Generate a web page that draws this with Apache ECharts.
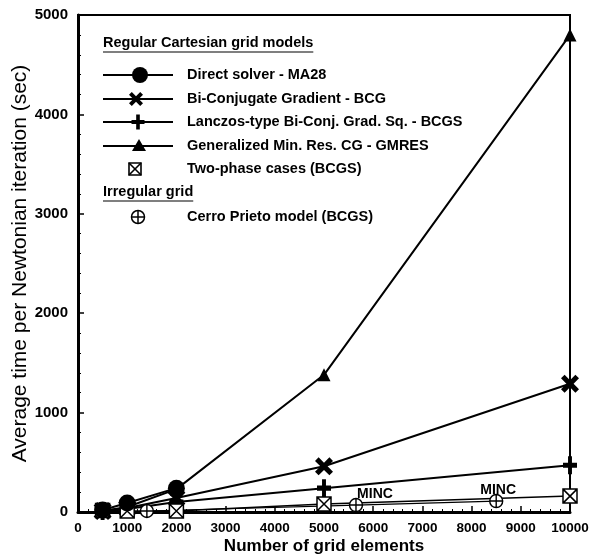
<!DOCTYPE html>
<html>
<head>
<meta charset="utf-8">
<script src="https://cdn.jsdelivr.net/npm/echarts@6/dist/echarts.min.js"></script>
<style>
html,body{margin:0;padding:0;background:#fff;}
#chart{width:593px;height:559px;}
</style>
</head>
<body>
<div id="chart"></div>
<script>
// ---- data ----
const gridSizes = [500, 1000, 2000, 5000, 10000];
const ma28Sizes = [500, 1000, 2000];
const ma28Time  = [20, 90, 240];
const bcgTime   = [10, 40, 140, 460, 1290];
const bcgsTime  = [10, 30, 100, 240, 470];
const gmresTime = [10, 50, 230, 1380, 4800];
const twoPhaseSizes = [500, 1000, 2000, 5000, 10000];
const twoPhaseTime  = [15, 10, 10, 80, 160];
const cerroSizes = [1400, 5650, 8500];
const cerroTime  = [10, 70, 110];
const cerroNotes = ['', 'MINC', 'MINC'];

const seriesNames = [
  'Direct solver - MA28',
  'Bi-Conjugate Gradient - BCG',
  'Lanczos-type Bi-Conj. Grad. Sq. - BCGS',
  'Generalized Min. Res. CG - GMRES',
  'Two-phase cases (BCGS)',
  'Cerro Prieto model (BCGS)'
];
const legendHeaders = ['Regular Cartesian grid models', 'Irregular grid'];
const xAxisTitle = 'Number of grid elements';
const yAxisTitle = 'Average time per Newtonian iteration (sec)';

// ---- drawing ----
const FONT = '"Liberation Sans", Arial, Helvetica, sans-serif';
const pair = (xs, ys) => xs.map((x, i) => [x, ys[i]]);

const SYM_X = 'path://M0,2 L2,0 L5,3 L8,0 L10,2 L7,5 L10,8 L8,10 L5,7 L2,10 L0,8 L3,5 Z';
const SYM_PLUS = 'path://M3.6,0 L6.4,0 L6.4,3.6 L10,3.6 L10,6.4 L6.4,6.4 L6.4,10 L3.6,10 L3.6,6.4 L0,6.4 L0,3.6 L3.6,3.6 Z';
const SYM_BOXX = 'path://M0,0 L10,0 L10,10 L0,10 Z M0,0 L10,10 M10,0 L0,10';
const SYM_CPLUS = 'path://M5,0 A5,5 0 1 1 5,10 A5,5 0 1 1 5,0 Z M5,0 L5,10 M0,5 L10,5';

const noteOffsets = [[0, 0], [19, 5], [2, 5]];

const black = '#000';
function lineSeries(name, data, symbol, size, extra) {
  return Object.assign({
    name, type: 'line', data, symbol, symbolSize: size, clip: false,
    lineStyle: { color: black, width: 2 },
    itemStyle: { color: black },
    emphasis: { disabled: true },
    z: 3
  }, extra || {});
}

const cerroData = pair(cerroSizes, cerroTime).map((p, i) => ({
  value: p,
  label: cerroNotes[i] ? {
    show: true, formatter: cerroNotes[i], position: 'top', distance: 2,
    offset: noteOffsets[i], fontFamily: FONT, fontWeight: 'bold', fontSize: 14, color: black
  } : { show: false }
}));

// legend (graphic)
const measure = (() => {
  const c = document.createElement('canvas').getContext('2d');
  return (txt, font) => { c.font = font; return c.measureText(txt).width; };
})();
const legFont = 'bold 14.5px ' + FONT;
const legX0 = 103, legX1 = 173, legTextX = 187, legMarkX = 139;
const itemY = [75, 99, 122, 146, 169, 217];
const headerY = [43, 192];
const g = [];
function polyFromPath(pathPts, cx, cy, w, h) {
  return pathPts.map(p => [cx - w / 2 + p[0] / 10 * w, cy - h / 2 + p[1] / 10 * h]);
}
const X_PTS = [[0,2],[2,0],[5,3],[8,0],[10,2],[7,5],[10,8],[8,10],[5,7],[2,10],[0,8],[3,5]];
const PLUS_PTS = [[3.6,0],[6.4,0],[6.4,3.6],[10,3.6],[10,6.4],[6.4,6.4],[6.4,10],[3.6,10],[3.6,6.4],[0,6.4],[0,3.6],[3.6,3.6]];
headerY.forEach((y, i) => {
  g.push({ type: 'text', x: legX0, y: y, style: { text: legendHeaders[i], font: legFont, fill: black, verticalAlign: 'middle' } });
  const w = measure(legendHeaders[i], legFont);
  g.push({ type: 'line', shape: { x1: legX0, y1: y + 9, x2: legX0 + w, y2: y + 9 }, style: { stroke: black, lineWidth: 1.2 } });
});
seriesNames.forEach((nm, i) => {
  const y = itemY[i];
  g.push({ type: 'text', x: legTextX, y: y, style: { text: nm, font: legFont, fill: black, verticalAlign: 'middle' } });
  if (i < 4) g.push({ type: 'line', shape: { x1: legX0, y1: y, x2: legX1, y2: y }, style: { stroke: black, lineWidth: 2 } });
});
g.push({ type: 'circle', shape: { cx: legMarkX + 1, cy: itemY[0], r: 8 }, style: { fill: black } });
g.push({ type: 'polygon', shape: { points: polyFromPath(X_PTS, legMarkX - 3, itemY[1], 14, 14) }, style: { fill: black } });
g.push({ type: 'polygon', shape: { points: polyFromPath(PLUS_PTS, legMarkX - 1, itemY[2], 13, 15) }, style: { fill: black } });
g.push({ type: 'polygon', shape: { points: [[legMarkX - 7, itemY[3] + 5], [legMarkX + 7, itemY[3] + 5], [legMarkX, itemY[3] - 7]] }, style: { fill: black } });
(function () {
  const cx = legMarkX - 4, cy = itemY[4], s = 6;
  g.push({ type: 'rect', shape: { x: cx - s, y: cy - s, width: 2 * s, height: 2 * s }, style: { fill: '#fff', stroke: black, lineWidth: 1.6 } });
  g.push({ type: 'line', shape: { x1: cx - s, y1: cy - s, x2: cx + s, y2: cy + s }, style: { stroke: black, lineWidth: 1.6 } });
  g.push({ type: 'line', shape: { x1: cx + s, y1: cy - s, x2: cx - s, y2: cy + s }, style: { stroke: black, lineWidth: 1.6 } });
})();
(function () {
  const cx = legMarkX - 1, cy = itemY[5], r = 6.5;
  g.push({ type: 'circle', shape: { cx, cy, r }, style: { fill: '#fff', stroke: black, lineWidth: 1.5 } });
  g.push({ type: 'line', shape: { x1: cx - r, y1: cy, x2: cx + r, y2: cy }, style: { stroke: black, lineWidth: 1.5 } });
  g.push({ type: 'line', shape: { x1: cx, y1: cy - r, x2: cx, y2: cy + r }, style: { stroke: black, lineWidth: 1.5 } });
})();

const axisCommon = {
  type: 'value',
  axisLine: { show: true, lineStyle: { color: black, width: 3 } },
  axisTick: { show: true, inside: true, length: 6, lineStyle: { color: black, width: 1.5 } },
  minorTick: { show: true, splitNumber: 5, length: 3, lineStyle: { color: black, width: 1 } },
  splitLine: { show: false },
  nameLocation: 'middle'
};
const plainNum = v => String(v);

const option = {
  animation: false,
  backgroundColor: '#fff',
  grid: { left: 78, right: 23, top: 15, bottom: 47, outerBoundsMode: 'none', containLabel: false,
          show: true, borderColor: black, borderWidth: 2, backgroundColor: 'transparent' },
  xAxis: Object.assign({}, axisCommon, {
    min: 0, max: 10000, interval: 1000,
    axisLabel: { color: black, fontFamily: FONT, fontWeight: 'bold', fontSize: 13.5, margin: 9, formatter: plainNum },
    name: xAxisTitle, nameGap: 26, nameMoveOverlap: false,
    nameTextStyle: { color: black, fontFamily: FONT, fontWeight: 'bold', fontSize: 17 }
  }),
  yAxis: Object.assign({}, axisCommon, {
    min: 0, max: 5000, interval: 1000,
    axisLabel: { color: black, fontFamily: FONT, fontWeight: 'bold', fontSize: 15, margin: 10, formatter: plainNum },
    name: yAxisTitle, nameGap: 47, nameMoveOverlap: false,
    nameTextStyle: { color: black, fontFamily: FONT, fontWeight: 'normal', fontSize: 21 }
  }),
  graphic: g,
  series: [
    lineSeries(seriesNames[3], pair(gridSizes, gmresTime), 'triangle', 13),
    lineSeries(seriesNames[1], pair(gridSizes, bcgTime), SYM_X, 18),
    lineSeries(seriesNames[2], pair(gridSizes, bcgsTime), SYM_PLUS, [14, 18]),
    lineSeries(seriesNames[4], pair(twoPhaseSizes, twoPhaseTime), SYM_BOXX, 14, {
      lineStyle: { color: black, width: 1.5 },
      itemStyle: { color: '#fff', borderColor: black, borderWidth: 1.5 }
    }),
    lineSeries(seriesNames[5], cerroData, SYM_CPLUS, 13, {
      lineStyle: { color: black, width: 1.2 },
      itemStyle: { color: '#fff', borderColor: black, borderWidth: 1.4 }
    }),
    lineSeries(seriesNames[0], pair(ma28Sizes, ma28Time), 'circle', 17)
  ]
};

const chart = echarts.init(document.getElementById('chart'), null, { renderer: 'canvas' });
chart.setOption(option);
</script>
</body>
</html>
